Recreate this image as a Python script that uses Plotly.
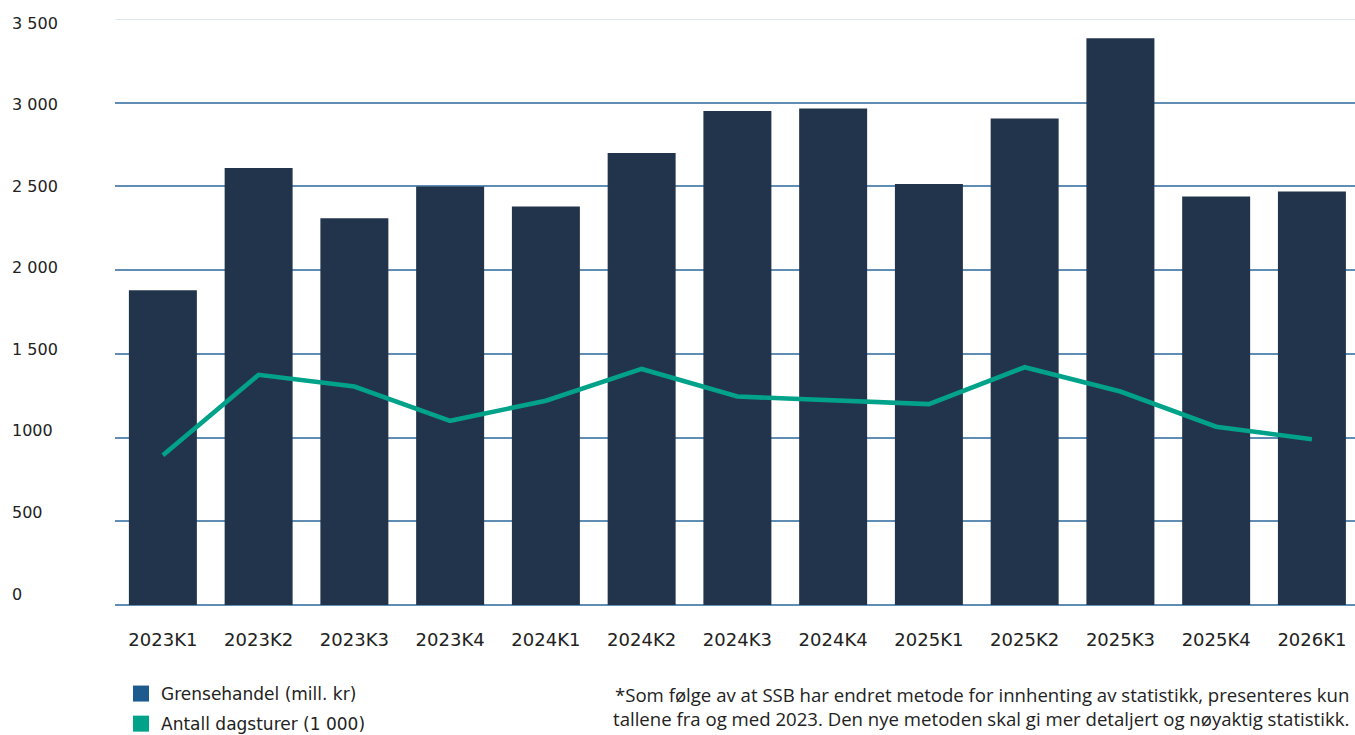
import plotly.graph_objects as go

categories = ["2023K1", "2023K2", "2023K3", "2023K4", "2024K1", "2024K2", "2024K3",
              "2024K4", "2025K1", "2025K2", "2025K3", "2025K4", "2026K1"]
grensehandel = [1880, 2610, 2310, 2500, 2380, 2700, 2950, 2965, 2515, 2905, 3385, 2440, 2470]
dagsturer = [895, 1375, 1305, 1100, 1220, 1410, 1245, 1225, 1200, 1420, 1275, 1065, 990]
ytick_vals = [0, 500, 1000, 1500, 2000, 2500, 3000, 3500]
ytick_text = ["0", "500", "1000", "1 500", "2 000", "2 500", "3 000", "3 500"]

legend_names = ["Grensehandel (mill. kr)", "Antall dagsturer (1 000)"]
legend_colors = ["#1D5A8E", "#00A38A"]
bar_color = "#22344B"
line_color = "#00A38A"
footnote = ("*Som følge av at SSB har endret metode for innhenting av statistikk, presenteres kun<br>"
            "tallene fra og med 2023. Den nye metoden skal gi mer detaljert og nøyaktig statistikk.")

FONT = "DejaVu Sans"
FOOT_FONT = "Open Sans"
TXT = "#222222"
GRID = "#5F8DB4"
L, R, T, B = 115, 0, 19, 130
W, H = 1355, 735
PW, PH = W - L - R, H - T - B
YMAX = 3500


def px_x(px):
    return (px - L) / PW


def px_y(py):
    return (H - B - py) / PH


fig = go.Figure()
fig.add_trace(go.Bar(x=categories, y=grensehandel, marker=dict(color=bar_color, line=dict(width=0)),
                     showlegend=False, name=legend_names[0]))
fig.add_trace(go.Scatter(x=categories, y=dagsturer, mode="lines",
                         line=dict(color=line_color, width=4.6), showlegend=False, name=legend_names[1]))
for i, (nm, col) in enumerate(zip(legend_names, legend_colors)):
    fig.add_trace(go.Scatter(x=[None], y=[None], name=nm, mode="markers",
                             marker=dict(color=col, symbol="square", size=20),
                             legendgroup=f"g{i}", showlegend=True))

annotations = []
for v, t in zip(ytick_vals, ytick_text):
    # labels sit slightly off their gridlines in the original layout
    off = 4 - 15 * (YMAX - v) / YMAX
    annotations.append(dict(x=px_x(10), xref="paper", y=v, yref="y", text=t, showarrow=False,
                            xanchor="left", yanchor="middle", yshift=-off,
                            font=dict(family=FONT, size=16, color=TXT)))
annotations.append(dict(x=px_x(1351), xref="paper", y=px_y(706), yref="paper",
                        text=footnote, showarrow=False, xanchor="right", yanchor="middle", align="right",
                        font=dict(family=FOOT_FONT, size=18.6, color=TXT)))

shapes = [dict(type="line", xref="paper", x0=0, x1=1, yref="y", y0=YMAX, y1=YMAX,
               line=dict(color="#D5E1EC", width=1.5))]

fig.update_layout(
    width=W, height=H,
    margin=dict(l=L, r=R, t=T, b=B, autoexpand=False),
    paper_bgcolor="white", plot_bgcolor="white",
    bargap=0.29,
    font=dict(family=FONT, color=TXT),
    annotations=annotations,
    shapes=shapes,
    legend=dict(x=px_x(121), y=px_y(676), xanchor="left", yanchor="top", orientation="v", tracegroupgap=5,
                font=dict(family=FONT, size=17, color=TXT), bgcolor="rgba(0,0,0,0)", itemsizing="trace"),
    xaxis=dict(range=[-0.5, len(categories) - 0.55], showgrid=False, showline=False, ticks="",
               tickfont=dict(family=FONT, size=18, color=TXT),
               ticklabelstandoff=22, automargin=False),
    yaxis=dict(range=[0, YMAX], tickvals=ytick_vals, showticklabels=False, showgrid=True,
               gridcolor=GRID, gridwidth=1.5, zeroline=True, zerolinecolor=GRID, zerolinewidth=1.5,
               automargin=False),
)
fig.write_html("out.html", config={"displayModeBar": False},
               post_script="document.body.style.margin='0';document.body.style.overflow='hidden';")
